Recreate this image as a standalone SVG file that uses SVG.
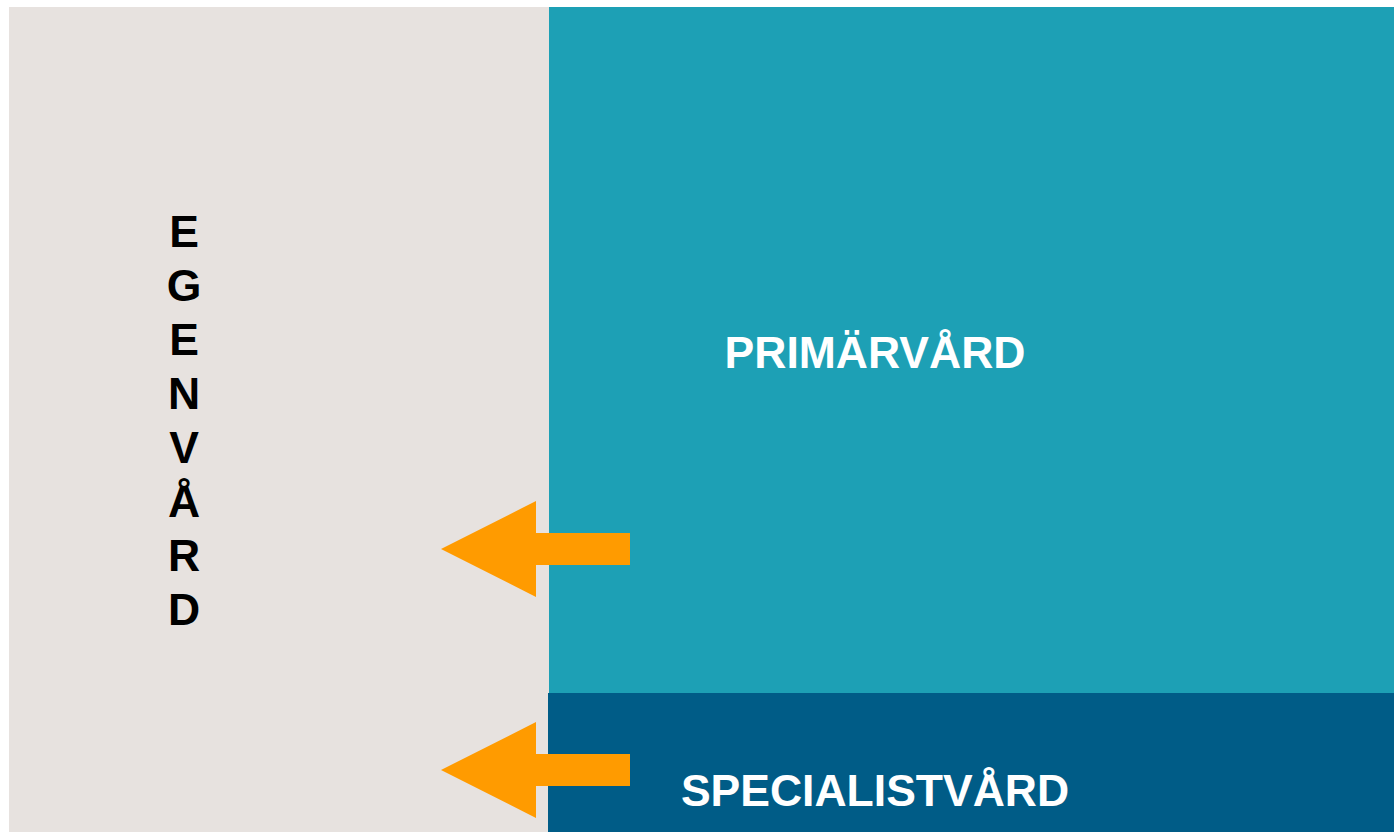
<svg xmlns="http://www.w3.org/2000/svg" width="1394" height="832" viewBox="0 0 1394 832">
<style>
.lbl{font-family:"Liberation Sans",Arial,sans-serif;font-weight:bold;font-size:44.5px;text-anchor:middle}
.arrow{fill:#FF9B00}
</style>
<rect x="0" y="0" width="1394" height="832" fill="#FFFFFF"/>
<g id="egenvard">
<rect x="9" y="7" width="540" height="825" fill="#E7E2DF"/>
<text class="lbl" fill="#000000" x="184" y="247">E</text>
<text class="lbl" fill="#000000" x="184" y="301">G</text>
<text class="lbl" fill="#000000" x="184" y="355">E</text>
<text class="lbl" fill="#000000" x="184" y="409">N</text>
<text class="lbl" fill="#000000" x="184" y="463">V</text>
<text class="lbl" fill="#000000" x="184" y="517">Å</text>
<text class="lbl" fill="#000000" x="184" y="571">R</text>
<text class="lbl" fill="#000000" x="184" y="625">D</text>
</g>
<g id="primarvard">
<rect x="549" y="7" width="845" height="686" fill="#1DA0B5"/>
<text class="lbl" fill="#FFFFFF" x="875" y="368">PRIMÄRVÅRD</text>
</g>
<g id="specialistvard">
<rect x="548" y="693" width="846" height="139" fill="#005C87"/>
<text class="lbl" fill="#FFFFFF" x="875" y="806">SPECIALISTVÅRD</text>
</g>
<g id="connectors">
<polygon class="arrow" points="630,533 536,533 536,501 441,549 536,597 536,565 630,565"/>
<polygon class="arrow" points="630,754 536,754 536,722 441,770 536,818 536,786 630,786"/>
</g>
</svg>
